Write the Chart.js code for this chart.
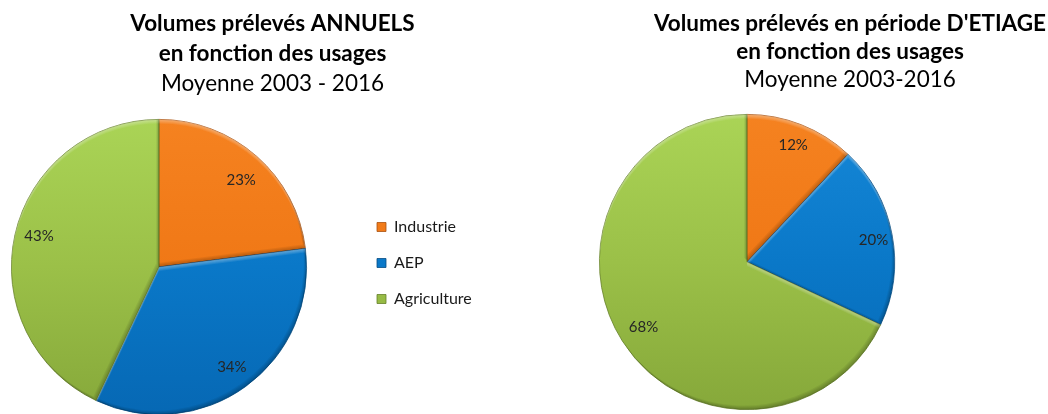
<!DOCTYPE html>
<html>
<head>
<meta charset="utf-8">
<script src="https://cdn.jsdelivr.net/npm/chart.js@4"></script>
<style>
  html, body { margin: 0; padding: 0; background: #fff; overflow: hidden; width: 1048px; height: 414px; }
  #wrapL { position: absolute; left: 0; top: 0; width: 545px; height: 414px; }
  #wrapR { position: absolute; left: 545px; top: 0; width: 610px; height: 414px; }
</style>
</head>
<body>
<div id="wrapL"><canvas id="cL"></canvas></div>
<div id="wrapR"><canvas id="cR"></canvas></div>
<script>
// ---- data ----
const categories = ['Industrie', 'AEP', 'Agriculture'];
const annualValues = [23, 34, 43];
const etiageValues = [12, 20, 68];
const annualTitle = ['Volumes prélevés ANNUELS', 'en fonction des usages'];
const annualSubtitle = 'Moyenne 2003 - 2016';
const etiageTitle = ["Volumes prélevés en période D'ETIAGE", 'en fonction des usages'];
const etiageSubtitle = 'Moyenne 2003-2016';

// ---- styles ----
const FONT = 'Lato, "Open Sans", sans-serif';
const palette = [
  { top: '#F58220', mid: '#F07816', bot: '#E5700F', border: '#A85210' },
  { top: '#1688D8', mid: '#0A78C8', bot: '#0668B4', border: '#054C84' },
  { top: '#AAD456', mid: '#9BC048', bot: '#86A83A', border: '#66802A' }
];

function fillFor(ctx) {
  const p = palette[ctx.dataIndex % palette.length];
  const ca = ctx.chart.chartArea;
  if (!ca) return p.mid;
  const g = ctx.chart.ctx.createLinearGradient(0, ca.top, 0, ca.bottom);
  g.addColorStop(0, p.top);
  g.addColorStop(0.5, p.mid);
  g.addColorStop(1, p.bot);
  return g;
}

// place the pie box and the legend where the reference shows them
const placement = {
  id: 'placement',
  afterLayout(chart, args, opts) {
    if (opts.pie) {
      const { cx, cy, r } = opts.pie;
      chart.chartArea = { left: cx - r, top: cy - r, right: cx + r, bottom: cy + r, width: 2 * r, height: 2 * r };
    }
    const lg = chart.legend;
    if (lg && opts.legend) {
      const w = lg.width;
      lg.left = opts.legend.left; lg.right = lg.left + w;
      lg.top = opts.legend.top; lg.bottom = opts.legend.bottom; lg.height = lg.bottom - lg.top;
    }
  }
};

// soft bevel look on each slice (highlight on upper edges, shade on lower-right edges)
const bevel = {
  id: 'bevel',
  afterDatasetsDraw(chart) {
    const meta = chart.getDatasetMeta(0);
    const c = chart.ctx;
    meta.data.forEach((arc) => {
      const { x, y, startAngle, endAngle, outerRadius } = arc.getProps(['x', 'y', 'startAngle', 'endAngle', 'outerRadius'], true);
      const path = (dx, dy) => {
        c.moveTo(x + dx, y + dy);
        c.arc(x + dx, y + dy, outerRadius, startAngle, endAngle);
        c.closePath();
      };
      c.save();
      c.beginPath(); path(0, 0); c.clip();
      for (let d = 1; d <= 4; d++) {
        c.beginPath(); c.rect(x - 400, y - 400, 800, 800); path(0, d);
        c.fillStyle = 'rgba(255,255,255,0.09)';
        c.fill('evenodd');
        c.beginPath(); c.rect(x - 400, y - 400, 800, 800); path(-0.7 * d, -d);
        c.fillStyle = 'rgba(0,0,0,0.06)';
        c.fill('evenodd');
      }
      c.restore();
    });
  }
};

// percentage labels drawn on each slice
const pctLabels = {
  id: 'pctLabels',
  afterDatasetsDraw(chart, args, opts) {
    const meta = chart.getDatasetMeta(0);
    const data = chart.data.datasets[0].data;
    const total = data.reduce((a, b) => a + b, 0);
    const c = chart.ctx;
    c.save();
    c.font = opts.font;
    c.fillStyle = opts.color;
    c.textAlign = 'center';
    c.textBaseline = 'middle';
    meta.data.forEach((arc, i) => {
      const { x, y, startAngle, endAngle, outerRadius } = arc.getProps(['x', 'y', 'startAngle', 'endAngle', 'outerRadius'], true);
      const shift = (opts.angleShift && opts.angleShift[i]) || 0;
      const a = (startAngle + endAngle) / 2 + shift * Math.PI / 180;
      const rf = (opts.radius && opts.radius[i]) || 0.82;
      const pct = Math.round(data[i] / total * 100) + '%';
      c.fillText(pct, x + Math.cos(a) * outerRadius * rf, y + Math.sin(a) * outerRadius * rf);
    });
    c.restore();
  }
};

function makeChart(id, values, title, subtitle, opts) {
  return new Chart(document.getElementById(id), {
    type: 'pie',
    data: {
      labels: categories,
      datasets: [{
        data: values,
        backgroundColor: fillFor,
        borderColor: palette.map(p => p.border),
        borderWidth: 0.8
      }]
    },
    plugins: [placement, bevel, pctLabels],
    options: {
      responsive: true,
      maintainAspectRatio: false,
      animation: false,
      layout: { padding: 0 },
      plugins: {
        title: {
          display: true,
          text: title,
          color: '#000',
          font: { family: FONT, size: opts.titleSize, weight: 'bold', lineHeight: opts.lineH / opts.titleSize },
          padding: { top: opts.titleTop, bottom: 0 }
        },
        subtitle: {
          display: true,
          text: subtitle,
          color: '#000',
          font: { family: FONT, size: opts.titleSize, weight: 'normal', lineHeight: opts.lineH / opts.titleSize },
          padding: { top: 0, bottom: 0 }
        },
        legend: {
          display: opts.showLegend,
          position: 'right',
          labels: {
            color: '#1a1a1a',
            font: { family: FONT, size: 16 },
            boxWidth: 9,
            boxHeight: 9,
            padding: 20
          }
        },
        tooltip: { enabled: false },
        placement: { pie: opts.pie, legend: opts.legend },
        pctLabels: { font: '15px ' + FONT, color: '#262626', angleShift: opts.angleShift, radius: opts.radius }
      }
    }
  });
}

makeChart('cL', annualValues, annualTitle, annualSubtitle, {
  titleSize: 22.5, lineH: 30, titleTop: 9,
  showLegend: true,
  pie: { cx: 159, cy: 267, r: 148 },
  legend: { left: 357, top: 107, bottom: 419 },
  angleShift: [2, 0, 2],
  radius: [0.81, 0.84, 0.84]
});

makeChart('cR', etiageValues, etiageTitle, etiageSubtitle, {
  titleSize: 22.5, lineH: 28, titleTop: 10,
  showLegend: false,
  pie: { cx: 202, cy: 262, r: 148 },
  legend: null,
  angleShift: [0, 1, 0],
  radius: [0.85, 0.87, 0.83]
});
</script>
</body>
</html>
